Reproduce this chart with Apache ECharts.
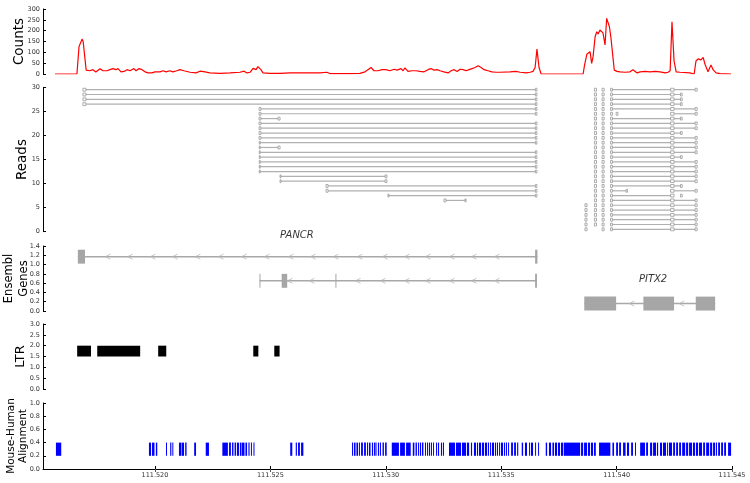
<!DOCTYPE html>
<html><head><meta charset="utf-8">
<script src="https://cdn.jsdelivr.net/npm/echarts@6/dist/echarts.min.js"></script>
<style>html,body{margin:0;padding:0;background:#fff}#c{width:750px;height:483px}</style>
</head><body><div id="c"></div><script>
// genomic position in Mb
const X_MIN = 111.51515, X_MAX = 111.545;
const xTicks = [111.520, 111.525, 111.530, 111.535, 111.540, 111.545];

const countPos = [111.51567,111.51662,111.51671,111.51684,111.51689,111.51694,111.51702,111.51710,111.51718,111.51731,111.51744,111.51762,111.51775,111.51792,111.51805,111.51818,111.51831,111.51840,111.51853,111.51866,111.51879,111.51892,111.51909,111.51918,111.51931,111.51944,111.51957,111.51970,111.51987,111.52000,111.52022,111.52035,111.52048,111.52065,111.52078,111.52095,111.52108,111.52126,111.52152,111.52178,111.52195,111.52217,111.52238,111.52282,111.52325,111.52368,111.52386,111.52399,111.52412,111.52425,111.52438,111.52446,111.52459,111.52468,111.52498,111.52542,111.52585,111.52628,111.52672,111.52715,111.52745,111.52758,111.52802,111.52845,111.52888,111.52910,111.52923,111.52936,111.52949,111.52966,111.52984,111.53001,111.53018,111.53036,111.53049,111.53066,111.53075,111.53083,111.53096,111.53114,111.53131,111.53148,111.53166,111.53183,111.53196,111.53209,111.53222,111.53235,111.53252,111.53270,111.53283,111.53296,111.53309,111.53322,111.53335,111.53348,111.53361,111.53374,111.53387,111.53400,111.53413,111.53426,111.53443,111.53460,111.53478,111.53495,111.53538,111.53564,111.53582,111.53608,111.53625,111.53638,111.53647,111.53655,111.53664,111.53673,111.53855,111.53861,111.53871,111.53876,111.53885,111.53892,111.53898,111.53907,111.53914,111.53920,111.53928,111.53936,111.53941,111.53950,111.53957,111.53969,111.53975,111.53982,111.53990,111.54002,111.54015,111.54037,111.54058,111.54071,111.54089,111.54102,111.54123,111.54145,111.54167,111.54188,111.54210,111.54223,111.54232,111.54240,111.54249,111.54258,111.54275,111.54318,111.54336,111.54344,111.54353,111.54366,111.54375,111.54383,111.54396,111.54409,111.54418,111.54431,111.54448,111.54496];
const countVal = [0,0,126,161,150,143,18,22,15,20,9,24,15,15,20,25,20,25,10,12,20,15,25,15,25,20,10,5,5,10,10,15,10,15,10,15,20,15,8,5,13,10,5,3,5,8,13,5,8,26,20,34,20,5,3,3,5,5,5,5,8,2,2,2,3,10,20,30,15,15,20,20,15,22,18,25,15,28,12,15,15,12,10,20,25,18,20,15,10,5,15,20,12,22,20,15,20,25,30,38,30,20,15,10,8,8,10,12,8,5,8,12,30,115,30,0,0,40,91,95,103,49,80,172,195,185,203,206,190,134,257,218,172,164,18,12,10,8,10,20,5,10,12,10,12,10,5,8,15,241,60,10,8,5,0,60,70,65,77,45,10,41,20,5,2,0];

// reads: [row, start1, end1, start2, end2, ...]
const pancrReads = [
 [29.5,111.51688,111.51701,111.53648,111.53655],
 [28.5,111.51688,111.51701,111.53648,111.53655],
 [27.5,111.51688,111.51701,111.53648,111.53655],
 [26.5,111.51688,111.51701,111.53648,111.53655],
 [25.5,111.52451,111.52459,111.53648,111.53655],
 [24.5,111.52451,111.52459,111.53648,111.53655],
 [23.5,111.52451,111.52459,111.52533,111.52542],
 [22.5,111.52451,111.52459,111.53648,111.53655],
 [21.5,111.52451,111.52459,111.53648,111.53655],
 [20.5,111.52451,111.52459,111.53648,111.53655],
 [19.5,111.52451,111.52459,111.53648,111.53655],
 [18.5,111.52452,111.52456,111.53648,111.53655],
 [17.5,111.52452,111.52456,111.52533,111.52542],
 [16.5,111.52452,111.52456,111.53648,111.53655],
 [15.5,111.52452,111.52456,111.53648,111.53655],
 [14.5,111.52452,111.52456,111.53648,111.53655],
 [13.5,111.52452,111.52456,111.53648,111.53655],
 [12.5,111.52452,111.52456,111.53648,111.53655],
 [11.5,111.52542,111.52546,111.52997,111.53005],
 [10.5,111.52542,111.52546,111.52997,111.53005],
 [9.5,111.52741,111.52750,111.53648,111.53655],
 [8.5,111.52741,111.52750,111.53648,111.53655],
 [7.5,111.53010,111.53013,111.53648,111.53655],
 [6.5,111.53252,111.53261,111.53343,111.53348]
];
const pitx2Reads = [
 [29.5,111.53904,111.53913],[29.5,111.53937,111.53946],[29.5,111.53974,111.53982,111.54234,111.54249,111.54340,111.54349],
 [28.5,111.53904,111.53913],[28.5,111.53937,111.53946],[28.5,111.53974,111.53982,111.54234,111.54249,111.54277,111.54284],
 [27.5,111.53904,111.53913],[27.5,111.53937,111.53946],[27.5,111.53974,111.53982,111.54234,111.54249,111.54277,111.54284],
 [26.5,111.53904,111.53913],[26.5,111.53937,111.53946],[26.5,111.53974,111.53982,111.54234,111.54249,111.54277,111.54284],
 [25.5,111.53904,111.53913],[25.5,111.53937,111.53946],[25.5,111.53974,111.53982,111.54234,111.54249,111.54340,111.54349],
 [24.5,111.53904,111.53913],[24.5,111.53937,111.53946],[24.5,111.53974,111.53982],[24.5,111.53998,111.54006],[24.5,111.54234,111.54249,111.54340,111.54349],
 [23.5,111.53904,111.53913],[23.5,111.53937,111.53946],[23.5,111.53974,111.53982,111.54234,111.54249,111.54277,111.54284],
 [22.5,111.53904,111.53913],[22.5,111.53937,111.53946],[22.5,111.53974,111.53982,111.54234,111.54249,111.54340,111.54349],
 [21.5,111.53904,111.53913],[21.5,111.53937,111.53946],[21.5,111.53974,111.53982,111.54234,111.54249,111.54340,111.54349],
 [20.5,111.53904,111.53913],[20.5,111.53937,111.53946],[20.5,111.53974,111.53982,111.54234,111.54249,111.54277,111.54284],
 [19.5,111.53904,111.53913],[19.5,111.53937,111.53946],[19.5,111.53974,111.53982,111.54234,111.54249,111.54340,111.54349],
 [18.5,111.53904,111.53913],[18.5,111.53937,111.53946],[18.5,111.53974,111.53982,111.54234,111.54249,111.54340,111.54349],
 [17.5,111.53904,111.53913],[17.5,111.53937,111.53946],[17.5,111.53974,111.53982,111.54234,111.54249,111.54340,111.54349],
 [16.5,111.53904,111.53913],[16.5,111.53937,111.53946],[16.5,111.53974,111.53982,111.54234,111.54249,111.54340,111.54349],
 [15.5,111.53904,111.53913],[15.5,111.53937,111.53946],[15.5,111.53974,111.53982,111.54234,111.54249,111.54277,111.54284],
 [14.5,111.53904,111.53913],[14.5,111.53937,111.53946],[14.5,111.53974,111.53982,111.54234,111.54249,111.54340,111.54349],
 [13.5,111.53904,111.53913],[13.5,111.53937,111.53946],[13.5,111.53974,111.53982,111.54234,111.54249,111.54340,111.54349],
 [12.5,111.53904,111.53913],[12.5,111.53937,111.53946],[12.5,111.53974,111.53982,111.54234,111.54249,111.54340,111.54349],
 [11.5,111.53904,111.53913],[11.5,111.53937,111.53946],[11.5,111.53974,111.53982,111.54234,111.54249,111.54340,111.54349],
 [10.5,111.53904,111.53913],[10.5,111.53937,111.53946],[10.5,111.53974,111.53982,111.54234,111.54249,111.54340,111.54349],
 [9.5,111.53904,111.53913],[9.5,111.53937,111.53946],[9.5,111.53974,111.53982,111.54234,111.54249,111.54277,111.54284],
 [8.5,111.53904,111.53913],[8.5,111.53937,111.53946],[8.5,111.53974,111.53982,111.54041,111.54047],[8.5,111.54234,111.54249,111.54340,111.54349],
 [7.5,111.53904,111.53913],[7.5,111.53937,111.53946],[7.5,111.53974,111.53982,111.54234,111.54249],[7.5,111.54277,111.54284],
 [6.5,111.53904,111.53913],[6.5,111.53937,111.53946],[6.5,111.53974,111.53982,111.54234,111.54249,111.54340,111.54349],
 [5.5,111.53863,111.53872],[5.5,111.53904,111.53913],[5.5,111.53937,111.53946],[5.5,111.53974,111.53982,111.54234,111.54249,111.54340,111.54349],
 [4.5,111.53863,111.53872],[4.5,111.53904,111.53913],[4.5,111.53937,111.53946],[4.5,111.53974,111.53982,111.54234,111.54249,111.54340,111.54349],
 [3.5,111.53863,111.53872],[3.5,111.53904,111.53913],[3.5,111.53937,111.53946],[3.5,111.53974,111.53982,111.54234,111.54249,111.54340,111.54349],
 [2.5,111.53863,111.53872],[2.5,111.53904,111.53913],[2.5,111.53937,111.53946],[2.5,111.53974,111.53982,111.54234,111.54249,111.54340,111.54349],
 [1.5,111.53863,111.53872],[1.5,111.53904,111.53913],[1.5,111.53937,111.53946],[1.5,111.53974,111.53982,111.54234,111.54249,111.54340,111.54349],
 [0.5,111.53863,111.53872],[0.5,111.53937,111.53946],[0.5,111.53974,111.53982,111.54234,111.54249,111.54340,111.54349]
];

// genes: [y, exon starts/ends...]
const geneRows = [1.17, 0.65, 0.16];
const geneExons = [
 [[111.51666,111.51697],[111.53647,111.53657]],
 [[111.52453,111.52457],[111.52549,111.52573],[111.52782,111.52786],[111.53647,111.53655]],
 [[111.53860,111.53998],[111.54116,111.54249],[111.54343,111.54427]]
];
const geneExonHalf = 0.15;
const chevronPos = [
 [111.51796,111.51892,111.51991,111.52087,111.52186,111.52286,111.52386,111.52485,111.52589,111.52685,111.52784,111.52888,111.52997,111.53092,111.53183,111.53287,111.53382,111.53482],
 [111.52585,111.52680,111.52880,111.52988,111.53092,111.53183,111.53287,111.53382,111.53482],
 [111.54066,111.54282]
];
const geneNames = ['PANCR', 'PITX2'];
const geneNamePos = [[111.52615, 1.62], [111.54158, 0.69]];

const ltrBlocks = [[111.51663,111.51723],[111.51750,111.51936],[111.52014,111.52049],[111.52426,111.52448],[111.52517,111.52540]];
const ltrRange = [1.5, 2.0];

const alignBlocks = [[111.51571,111.51594],[111.51974,111.51983],[111.51987,111.51998],[111.52004,111.52010],[111.52048,111.52052],[111.52066,111.52071],[111.52076,111.52079],[111.52104,111.52113],[111.52115,111.52126],[111.52131,111.52137],[111.52170,111.52178],[111.52220,111.52234],[111.52292,111.52316],[111.52321,111.52329],[111.52334,111.52340],[111.52345,111.52351],[111.52355,111.52364],[111.52368,111.52375],[111.52377,111.52388],[111.52392,111.52399],[111.52405,111.52410],[111.52416,111.52420],[111.52427,111.52431],[111.52586,111.52595],[111.52610,111.52615],[111.52620,111.52628],[111.52633,111.52643],[111.52854,111.52858],[111.52862,111.52869],[111.52873,111.52880],[111.52884,111.52888],[111.52893,111.52901],[111.52906,111.52914],[111.52919,111.52923],[111.52927,111.52934],[111.52940,111.52945],[111.52949,111.52953],[111.52955,111.52960],[111.52966,111.52971],[111.52975,111.52979],[111.52986,111.52992],[111.52997,111.53004],[111.53026,111.53057],[111.53062,111.53083],[111.53088,111.53108],[111.53117,111.53124],[111.53129,111.53135],[111.53140,111.53144],[111.53148,111.53153],[111.53157,111.53163],[111.53170,111.53174],[111.53179,111.53183],[111.53187,111.53192],[111.53196,111.53200],[111.53205,111.53209],[111.53218,111.53222],[111.53226,111.53231],[111.53239,111.53244],[111.53248,111.53252],[111.53274,111.53300],[111.53304,111.53326],[111.53330,111.53348],[111.53352,111.53361],[111.53369,111.53374],[111.53382,111.53391],[111.53395,111.53400],[111.53404,111.53413],[111.53417,111.53426],[111.53430,111.53439],[111.53443,111.53447],[111.53452,111.53456],[111.53460,111.53469],[111.53473,111.53478],[111.53482,111.53486],[111.53491,111.53495],[111.53499,111.53508],[111.53512,111.53517],[111.53521,111.53525],[111.53530,111.53534],[111.53543,111.53551],[111.53556,111.53564],[111.53569,111.53574],[111.53589,111.53595],[111.53603,111.53612],[111.53621,111.53625],[111.53629,111.53638],[111.53647,111.53651],[111.53660,111.53664],[111.53693,111.53699],[111.53707,111.53716],[111.53722,111.53729],[111.53733,111.53742],[111.53746,111.53755],[111.53759,111.53769],[111.53772,111.53842],[111.53846,111.53855],[111.53859,111.53872],[111.53876,111.53885],[111.53889,111.53898],[111.53902,111.53910],[111.53924,111.53973],[111.53982,111.53989],[111.53998,111.54006],[111.54011,111.54019],[111.54028,111.54039],[111.54045,111.54054],[111.54063,111.54071],[111.54080,111.54084],[111.54102,111.54123],[111.54128,111.54136],[111.54145,111.54154],[111.54158,111.54171],[111.54175,111.54180],[111.54188,111.54197],[111.54201,111.54214],[111.54219,111.54223],[111.54227,111.54240],[111.54245,111.54253],[111.54258,111.54266],[111.54271,111.54279],[111.54284,111.54297],[111.54301,111.54310],[111.54314,111.54327],[111.54331,111.54340],[111.54344,111.54353],[111.54357,111.54370],[111.54375,111.54383],[111.54388,111.54401],[111.54405,111.54414],[111.54418,111.54427],[111.54431,111.54435],[111.54440,111.54448],[111.54453,111.54461],[111.54466,111.54474],[111.54483,111.54496]];
const alignRange = [0.2, 0.4];

// ---------- build ----------
const F = 'DejaVu Sans';
const TICK_FONT = 6.5;
const readLines = [], readBlocks = [];
[...pancrReads, ...pitx2Reads].forEach(r => {
  const row = r[0];
  if (r.length > 3) readLines.push([r[1], r[r.length - 1], row]);
  for (let i = 1; i < r.length; i += 2) readBlocks.push([r[i], r[i + 1], row - 0.3, row + 0.3]);
});
const geneLineData = [], geneExonData = [], chevronData = [];
geneRows.forEach((y, i) => {
  const ex = geneExons[i];
  geneLineData.push([ex[0][0], ex[ex.length - 1][1], y]);
  ex.forEach(e => geneExonData.push([e[0], e[1], y - geneExonHalf, y + geneExonHalf]));
  chevronPos[i].forEach(x => chevronData.push([x, y]));
});
const ltrData = ltrBlocks.map(b => [b[0], b[1], ltrRange[0], ltrRange[1]]);
const alignData = alignBlocks.map(b => [b[0], b[1], alignRange[0], alignRange[1]]);

function rectRender(fill, stroke, lw) {
  return function (params, api) {
    const a = api.coord([api.value(0), api.value(3)]);
    const b = api.coord([api.value(1), api.value(2)]);
    let w = b[0] - a[0];
    let x = a[0];
    if (w < 1) { x = (a[0] + b[0]) / 2 - 0.5; w = 1; }
    return { type: 'rect', shape: { x: x, y: a[1], width: w, height: b[1] - a[1] },
      style: { fill: fill, stroke: stroke || null, lineWidth: lw || 0 } };
  };
}
function hlineRender(color, lw) {
  return function (params, api) {
    const a = api.coord([api.value(0), api.value(2)]);
    const b = api.coord([api.value(1), api.value(2)]);
    return { type: 'line', shape: { x1: a[0], y1: a[1], x2: b[0], y2: b[1] },
      style: { stroke: color, lineWidth: lw } };
  };
}

const gridTops = [9, 87.3, 246, 324, 403];
const gridHeights = [65, 144.4, 65, 65, 66];
const grids = gridTops.map((t, i) => ({ left: 43, width: 689, top: t, height: gridHeights[i], outerBoundsMode: 'none', containLabel: false }));

const xAxes = grids.map((g, i) => ({
  type: 'value', gridIndex: i, min: X_MIN, max: X_MAX, show: i === 4,
  axisLine: { show: true, lineStyle: { color: '#000', width: 1 } },
  axisTick: { show: true, inside: true, length: 3, customValues: xTicks, lineStyle: { color: '#000' } },
  axisLabel: { show: true, customValues: xTicks, formatter: v => v.toFixed(3), fontSize: TICK_FONT, color: '#333', fontFamily: F, margin: 3 },
  splitLine: { show: false }
}));
xAxes.push({
  type: 'value', gridIndex: 4, position: 'top', min: X_MIN, max: X_MAX,
  axisLine: { show: false }, axisLabel: { show: false }, splitLine: { show: false },
  axisTick: { show: true, inside: true, length: 3, customValues: xTicks, lineStyle: { color: '#555' } }
});

function yAx(i, min, max, interval, name, nameSize, gap, dec) {
  return {
    type: 'value', gridIndex: i, min: min, max: max, interval: interval,
    name: name, nameLocation: 'middle', nameRotate: 90, nameGap: gap, nameMoveOverlap: false,
    nameTextStyle: { fontSize: nameSize, color: '#000', fontFamily: F },
    axisLine: { show: true, lineStyle: { color: '#000', width: 1 } },
    axisTick: { show: true, inside: true, length: 3, lineStyle: { color: '#000' } },
    axisLabel: { fontSize: TICK_FONT, color: '#333', fontFamily: F, margin: 3, formatter: v => v.toFixed(dec) },
    splitLine: { show: false }
  };
}
// second line of a two-line axis title, on a bare companion axis
function yName(i, min, max, name, nameSize, gap) {
  return {
    type: 'value', gridIndex: i, min: min, max: max, position: 'left',
    name: name, nameLocation: 'middle', nameRotate: 90, nameGap: gap, nameMoveOverlap: false,
    nameTextStyle: { fontSize: nameSize, color: '#000', fontFamily: F },
    axisLine: { show: false }, axisTick: { show: false }, axisLabel: { show: false }, splitLine: { show: false }
  };
}
const yAxes = [
  yAx(0, 0, 300, 50, 'Counts', 13.5, 17, 0),
  yAx(1, 0, 30, 5, 'Reads', 13.5, 13.5, 0),
  yAx(2, 0, 1.4, 0.2, 'Ensembl', 11.5, 27.5, 1),
  yAx(3, 0, 3, 0.5, 'LTR', 13, 16, 1),
  yAx(4, 0, 1, 0.2, 'Mouse-Human', 10.5, 26, 1),
  yName(2, 0, 1.4, 'Genes', 11.5, 12.5),
  yName(4, 0, 1, 'Alignment', 10.5, 14.5)
];

const series = [
  { type: 'line', xAxisIndex: 0, yAxisIndex: 0, data: countPos.map((p, i) => [p, countVal[i]]),
    showSymbol: false, symbol: 'none', lineStyle: { color: '#ff0000', width: 1.2 }, animation: false },
  { type: 'custom', xAxisIndex: 1, yAxisIndex: 1, data: readLines, encode: { x: [0, 1], y: 2 },
    renderItem: hlineRender('#b0b0b0', 1.2), animation: false },
  { type: 'custom', xAxisIndex: 1, yAxisIndex: 1, data: readBlocks, encode: { x: [0, 1], y: [2, 3] },
    renderItem: rectRender('#ffffff', '#999999', 0.8), animation: false },
  { type: 'custom', xAxisIndex: 2, yAxisIndex: 2, data: geneLineData, encode: { x: [0, 1], y: 2 },
    renderItem: hlineRender('#a8a8a8', 1.5), animation: false },
  { type: 'scatter', xAxisIndex: 2, yAxisIndex: 2, data: chevronData, symbol: 'path://M8,0L0,5L8,10',
    symbolSize: [5, 5], itemStyle: { color: 'rgba(0,0,0,0)', borderColor: '#b5b5b5', borderWidth: 1 }, animation: false },
  { type: 'custom', xAxisIndex: 2, yAxisIndex: 2, data: geneExonData, encode: { x: [0, 1], y: [2, 3] },
    renderItem: rectRender('#a6a6a6'), animation: false },
  { type: 'scatter', xAxisIndex: 2, yAxisIndex: 2, clip: false, symbolSize: 0,
    data: geneNamePos.map((p, i) => ({ value: p, name: geneNames[i] })),
    label: { show: true, position: 'inside', formatter: p => p.name, fontStyle: 'italic', fontSize: 10, color: '#000', fontFamily: F },
    animation: false },
  { type: 'custom', xAxisIndex: 3, yAxisIndex: 3, data: ltrData, encode: { x: [0, 1], y: [2, 3] },
    renderItem: rectRender('#000000'), animation: false },
  { type: 'custom', xAxisIndex: 4, yAxisIndex: 4, data: alignData, encode: { x: [0, 1], y: [2, 3] },
    renderItem: rectRender('#0000ff'), animation: false }
];

const chart = echarts.init(document.getElementById('c'), null, { renderer: 'canvas' });
chart.setOption({ animation: false, backgroundColor: '#fff', grid: grids, xAxis: xAxes, yAxis: yAxes, series: series });
</script></body></html>
